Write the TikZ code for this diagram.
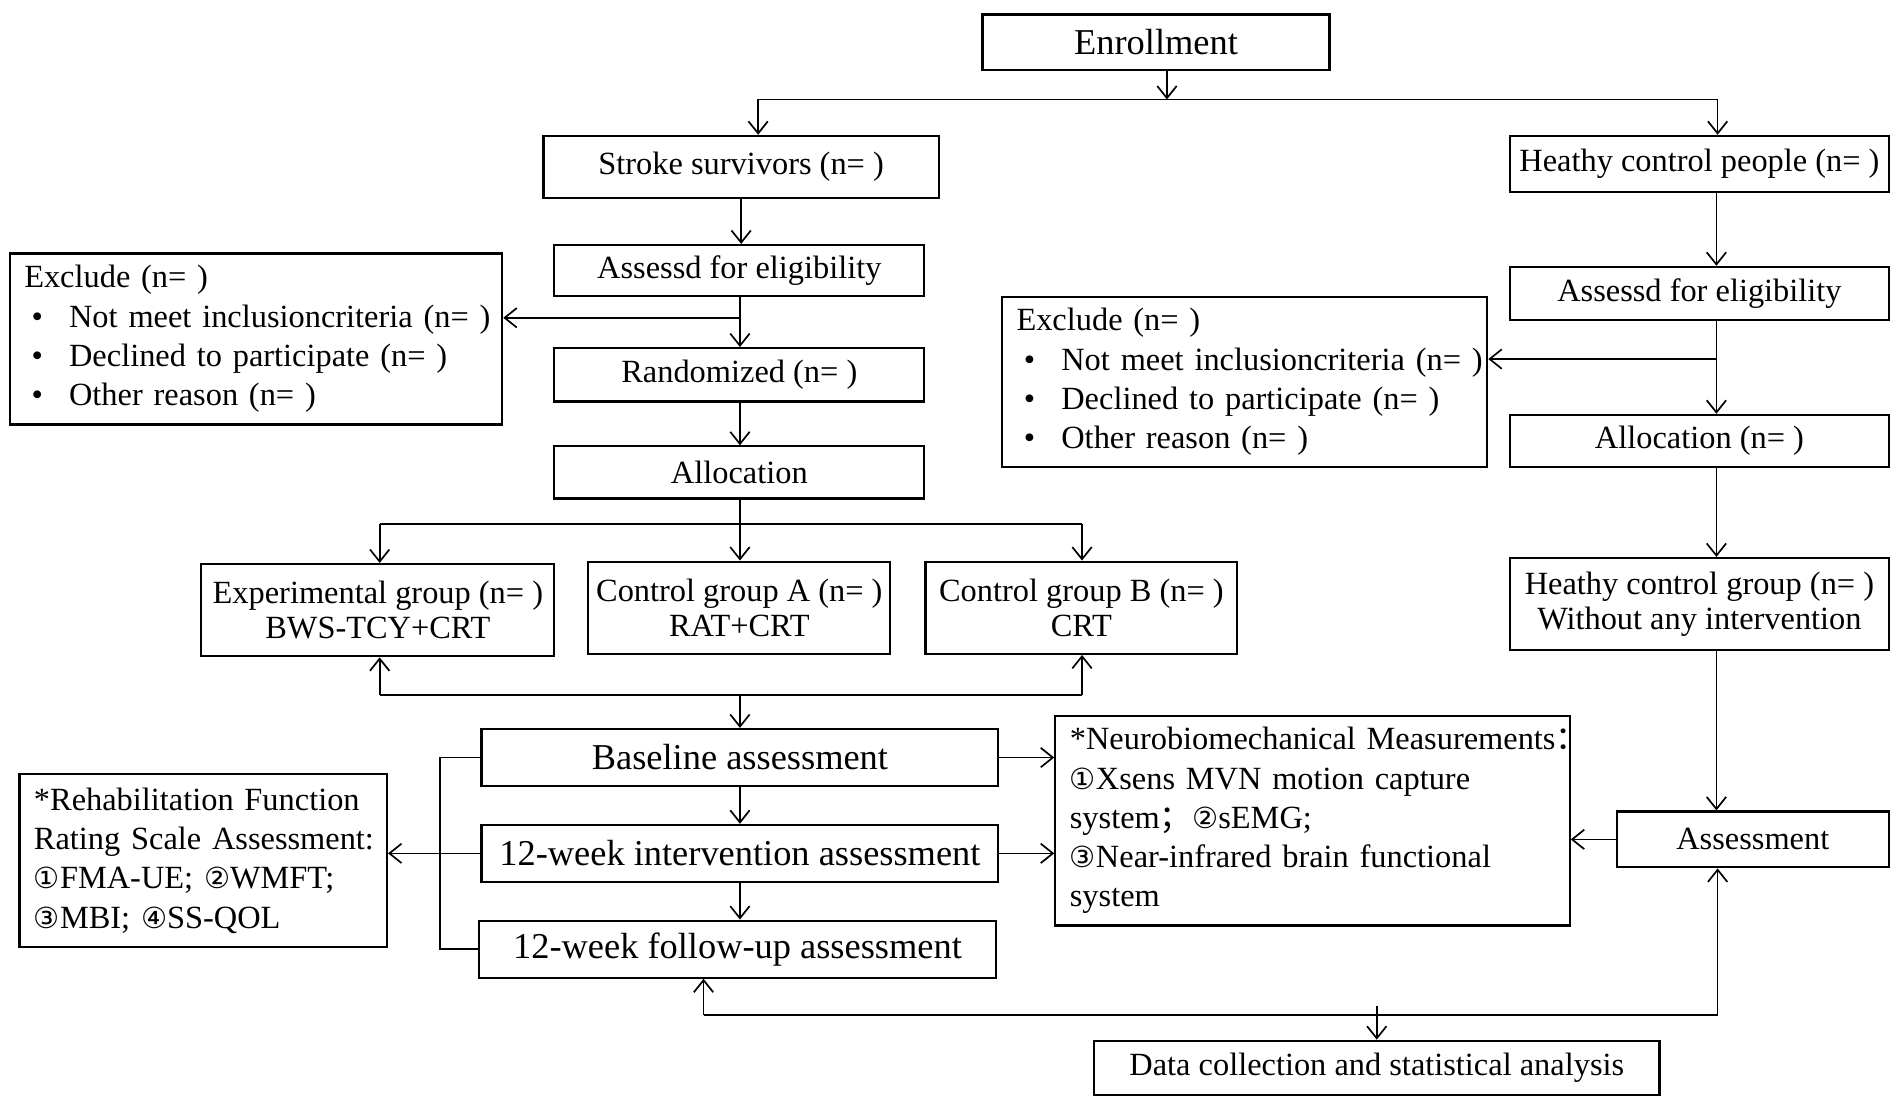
\documentclass[tikz,border=0pt]{standalone}
\usepackage{fontspec}
\setmainfont{Liberation Serif}
\newfontfamily\circfont{DejaVu Sans}
\newfontfamily\cjkfont{Noto Sans CJK SC}
\usetikzlibrary{arrows.meta}
\newcommand{\cd}[1]{{\circfont\fontsize{12}{14}\selectfont #1}}
\newcommand{\fw}[1]{{\cjkfont #1}}
\newcommand{\bul}{\hspace*{3pt}\makebox[15.5pt][l]{•}}
\begin{document}
\begin{tikzpicture}[x=0.5pt,y=-0.5pt,
  box/.style={draw, line width=0.9pt, inner sep=0pt, align=center, font=\fontsize{13.35}{14.5}\selectfont},
  bigbox/.style={box, font=\fontsize{15}{16}\selectfont},
  lbox/.style={draw, line width=0.9pt, inner ysep=0pt, inner xsep=6pt, align=left, font=\fontsize{13.35}{16.2}\selectfont},
  arr/.style={line width=0.7pt, -{Straight Barb[length=5pt,width=8pt]}},
  ln/.style={line width=0.7pt}]
\fill[white] (0,0) rectangle (1568,910);
\useasboundingbox (0,0) rectangle (1568,910);

% boxes
\node[bigbox, minimum width=143pt, minimum height=23pt] (enroll) at (953,35) {Enrollment};
\node[box, minimum width=163pt, minimum height=25.5pt] (stroke) at (611,137.5) {Stroke survivors (n= )};
\node[box, minimum width=156pt, minimum height=23pt] (healthy) at (1401,135) {Heathy control people (n= )};
\node[box, minimum width=152.5pt, minimum height=21pt] (assessL) at (609.5,223) {Assessd for eligibility};
\node[lbox, text width=191pt, minimum height=70.5pt] (excludeL) at (211,279.5) {\mbox{Exclude (n= )}\\\mbox{\bul Not meet inclusioncriteria (n= )}\\\mbox{\bul Declined to participate (n= )}\\\mbox{\bul Other reason (n= )}};
\node[box, minimum width=152.5pt, minimum height=22pt] (random) at (609.5,309) {Randomized (n= )};
\node[box, minimum width=152.5pt, minimum height=21.5pt] (allocL) at (609.5,389.5) {Allocation};
\node[box, minimum width=145.5pt, minimum height=38pt] (exp) at (311.5,503) {Experimental group (n= )\\BWS-TCY+CRT};
\node[box, minimum width=124.5pt, minimum height=38pt] (ctrlA) at (609.5,501) {Control group A (n= )\\RAT+CRT};
\node[box, minimum width=128.5pt, minimum height=38pt] (ctrlB) at (891.5,501) {Control group B (n= )\\CRT};
\node[bigbox, minimum width=213pt, minimum height=23.5pt] (base) at (610,624.5) {Baseline assessment};
\node[bigbox, minimum width=213pt, minimum height=23.5pt] (inter) at (610,703.5) {12-week intervention assessment};
\node[bigbox, minimum width=213pt, minimum height=23.5pt] (follow) at (608,782.5) {12-week follow-up assessment};
\node[lbox, text width=139.5pt, minimum height=71.5pt] (rehab) at (167.5,709.5) {\mbox{*Rehabilitation Function}\\\mbox{Rating Scale Assessment:}\\\mbox{\cd{①}FMA-UE; \cd{②}WMFT;}\\\mbox{\cd{③}MBI; \cd{④}SS-QOL}};
\node[lbox, text width=200pt, minimum height=86.5pt] (neuro) at (1082,676.5) {\mbox{*Neurobiomechanical Measurements\fw{：}}\\\mbox{\cd{①}Xsens MVN motion capture}\\\mbox{system\fw{；}\cd{②}sEMG;}\\\mbox{\cd{③}Near-infrared brain functional}\\\mbox{system}};
\node[box, minimum width=156pt, minimum height=22pt] (assessR) at (1401,242) {Assessd for eligibility};
\node[lbox, text width=188pt, minimum height=70pt] (excludeR) at (1026,315) {\mbox{Exclude (n= )}\\\mbox{\bul Not meet inclusioncriteria (n= )}\\\mbox{\bul Declined to participate (n= )}\\\mbox{\bul Other reason (n= )}};
\node[box, minimum width=156pt, minimum height=21.5pt] (allocR) at (1401,363.5) {Allocation (n= )};
\node[box, minimum width=156pt, minimum height=38pt] (hcg) at (1401,498) {Heathy control group (n= )\\Without any intervention};
\node[box, minimum width=112pt, minimum height=23pt] (assessment) at (1445,692) {Assessment};
\node[box, minimum width=233pt, minimum height=22.5pt] (data) at (1135,880.5) {Data collection and statistical analysis};

% junction coordinates
\coordinate (jE) at (962,82);
\coordinate (jL) at (625,82);
\coordinate (jR) at (1416,82);
\coordinate (bL) at (610,262);
\coordinate (jA) at (610,432);
\coordinate (jA1) at (313,432);
\coordinate (jA3) at (892,432);
\coordinate (jB) at (610,573);
\coordinate (jB1) at (313,573);
\coordinate (jB3) at (892,573);
\coordinate (br) at (363,0);
\coordinate (rx) at (1415,0);
\coordinate (bR) at (1415,296);
\coordinate (jC1) at (580,837);
\coordinate (jC2) at (1416,837);
\coordinate (jC) at (1135,829);

% connectors
\draw[arr] (enroll.south -| jE) -- (jE);
\draw[ln] (jL) -- (jR);
\draw[arr] (jL) -- (jL |- stroke.north);
\draw[arr] (jR) -- (jR |- healthy.north);

\draw[arr] (stroke.south) -- (stroke.south |- assessL.north);
\draw[arr] (assessL.south -| bL) -- (bL |- random.north);
\draw[arr] (bL) -- (bL -| excludeL.east);
\draw[arr] (random.south -| bL) -- (bL |- allocL.north);
\draw[ln] (allocL.south -| jA) -- (jA);
\draw[ln] (jA1) -- (jA3);
\draw[arr] (jA1) -- (jA1 |- exp.north);
\draw[arr] (jA) -- (jA |- ctrlA.north);
\draw[arr] (jA3) -- (jA3 |- ctrlB.north);
\draw[ln] (jB1) -- (jB3);
\draw[arr] (jB1) -- (jB1 |- exp.south);
\draw[arr] (jB3) -- (jB3 |- ctrlB.south);
\draw[arr] (jB) -- (jB |- base.north);
\draw[arr] (base.south) -- (inter.north);
\draw[arr] (inter.south) -- (inter.south |- follow.north);
\draw[ln] (base.west) -- (base.west -| br) -- (follow.west -| br) -- (follow.west);
\draw[arr] (inter.west) -- (inter.west -| rehab.east);
\draw[arr] (base.east) -- (base.east -| neuro.west);
\draw[arr] (inter.east) -- (inter.east -| neuro.west);

\draw[arr] (healthy.south -| rx) -- (rx |- assessR.north);
\draw[arr] (assessR.south -| rx) -- (rx |- allocR.north);
\draw[arr] (bR) -- (bR -| excludeR.east);
\draw[arr] (allocR.south -| rx) -- (rx |- hcg.north);
\draw[arr] (hcg.south -| rx) -- (rx |- assessment.north);
\draw[arr] (assessment.west) -- (assessment.west -| neuro.east);

\draw[arr] (jC1) -- (jC1 |- follow.south);
\draw[ln] (jC1) -- (jC2);
\draw[arr] (jC2) -- (jC2 |- assessment.south);
\draw[arr] (jC) -- (jC |- data.north);
\end{tikzpicture}
\end{document}
